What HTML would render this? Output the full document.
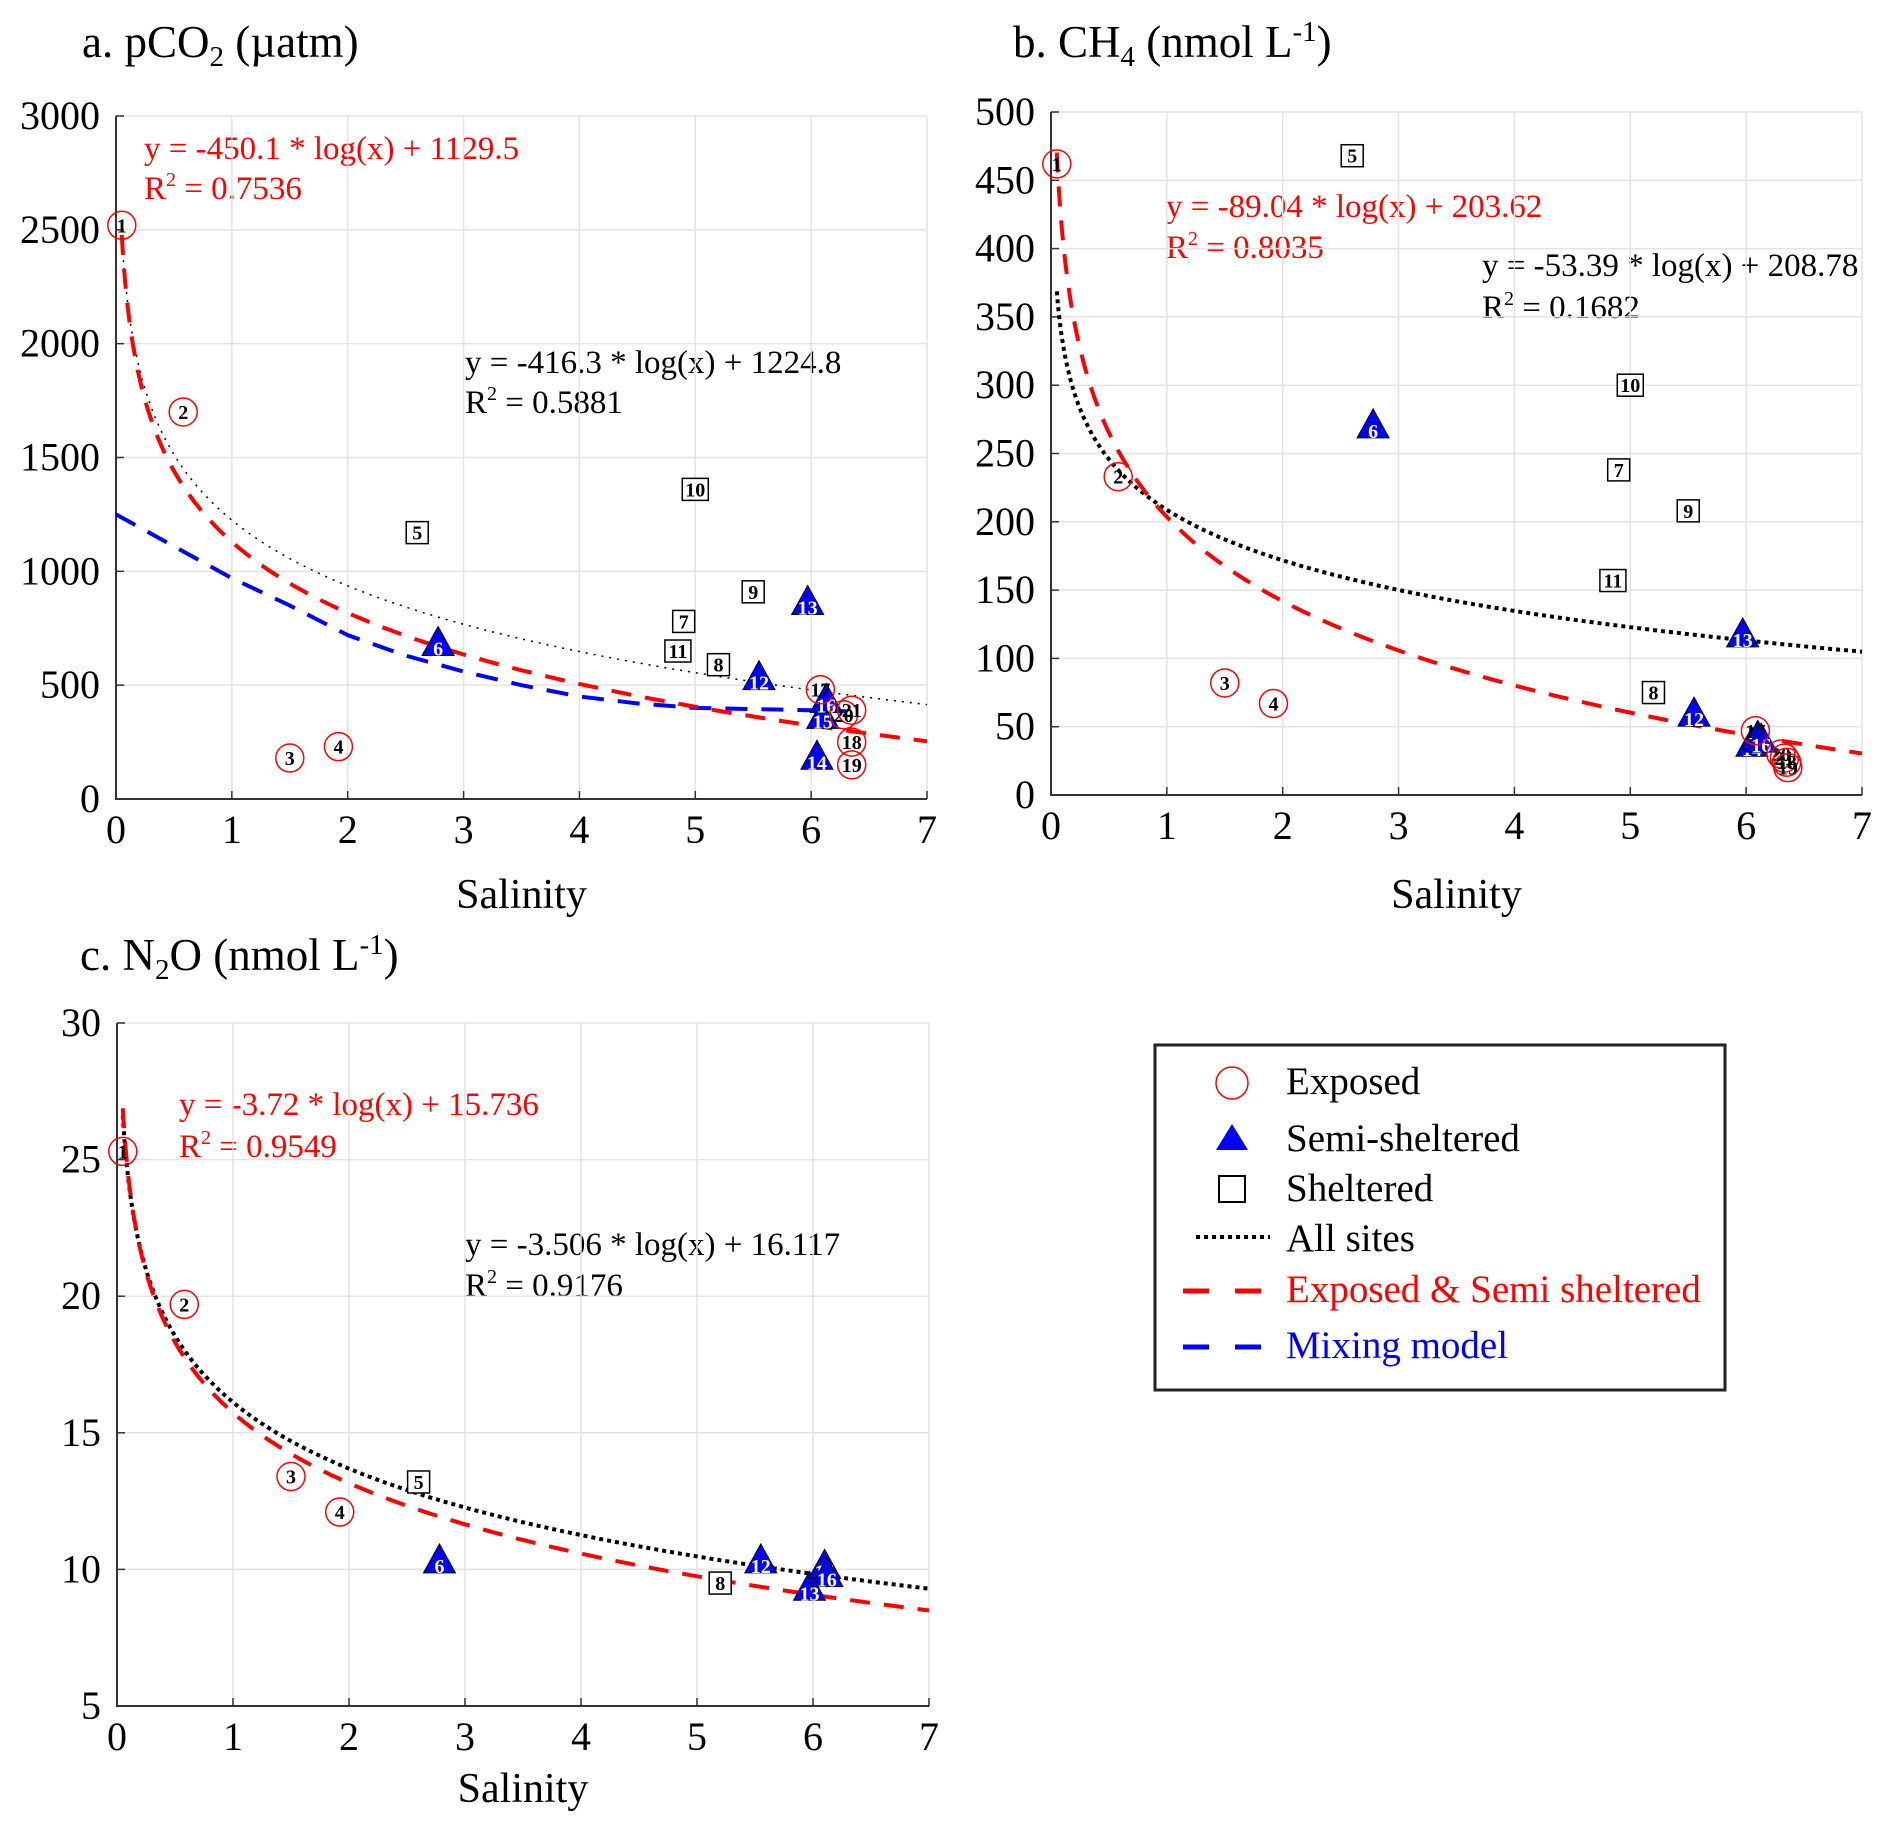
<!DOCTYPE html>
<html><head><meta charset="utf-8">
<style>
html,body{margin:0;padding:0;background:#fff;}
svg{display:block;font-family:"Liberation Serif",serif;}
</style></head>
<body>
<svg id="fig" width="1892" height="1829" viewBox="0 0 1892 1829" xmlns="http://www.w3.org/2000/svg">
<text x="82" y="57" font-size="45">a. pCO<tspan font-size="29" dy="9">2</tspan><tspan dy="-9"> (µatm)</tspan></text>
<text x="1013" y="57" font-size="45">b. CH<tspan font-size="29" dy="9">4</tspan><tspan dy="-9"> (nmol L</tspan><tspan font-size="29" dy="-16">-1</tspan><tspan dy="16">)</tspan></text>
<text x="80" y="970" font-size="45">c. N<tspan font-size="29" dy="9">2</tspan><tspan dy="-9">O (nmol L</tspan><tspan font-size="29" dy="-16">-1</tspan><tspan dy="16">)</tspan></text>

<text x="144" y="159" font-size="33" fill="#ff0000">y = -450.1 * log(x) + 1129.5</text>
<text x="144" y="199" font-size="33" fill="#ff0000">R<tspan font-size="20" dy="-13">2</tspan><tspan dy="13"> = 0.7536</tspan></text>
<text x="465" y="373" font-size="33">y = -416.3 * log(x) + 1224.8</text>
<text x="465" y="413" font-size="33">R<tspan font-size="20" dy="-13">2</tspan><tspan dy="13"> = 0.5881</tspan></text>

<text x="1166" y="217" font-size="33" fill="#ff0000">y = -89.04 * log(x) + 203.62</text>
<text x="1166" y="258" font-size="33" fill="#ff0000">R<tspan font-size="20" dy="-13">2</tspan><tspan dy="13"> = 0.8035</tspan></text>
<text x="1482" y="276" font-size="33">y = -53.39 * log(x) + 208.78</text>
<text x="1482" y="318" font-size="33">R<tspan font-size="20" dy="-13">2</tspan><tspan dy="13"> = 0.1682</tspan></text>

<text x="179" y="1115" font-size="33" fill="#ff0000">y = -3.72 * log(x) + 15.736</text>
<text x="179" y="1157" font-size="33" fill="#ff0000">R<tspan font-size="20" dy="-13">2</tspan><tspan dy="13"> = 0.9549</tspan></text>
<text x="465" y="1255" font-size="33">y = -3.506 * log(x) + 16.117</text>
<text x="465" y="1296" font-size="33">R<tspan font-size="20" dy="-13">2</tspan><tspan dy="13"> = 0.9176</tspan></text>

<g>
<rect x="1155" y="1045" width="570" height="345" fill="none" stroke="#222" stroke-width="3"/>
<g><circle cx="1232" cy="1083" r="16" fill="none" stroke="#ff0000" stroke-width="1.5"/><text x="1286" y="1094" font-size="39">Exposed</text></g>
<g><polygon points="1232,1124 1248,1150 1216,1150" fill="#0000ff"/><text x="1286" y="1151" font-size="39">Semi-sheltered</text></g>
<g><rect x="1219" y="1176" width="26" height="26" fill="none" stroke="#000" stroke-width="2"/><text x="1286" y="1201" font-size="39">Sheltered</text></g>
<g><line x1="1196" y1="1237" x2="1270" y2="1237" stroke="#000" stroke-width="4" stroke-dasharray="4,4"/><text x="1286" y="1251" font-size="39">All sites</text></g>
<g><line x1="1183" y1="1291" x2="1265" y2="1291" stroke="#ff0000" stroke-width="5" stroke-dasharray="26,26"/><text x="1286" y="1302" font-size="39" fill="#ff0000">Exposed &amp; Semi sheltered</text></g>
<g><line x1="1183" y1="1347" x2="1265" y2="1347" stroke="#0000ff" stroke-width="5" stroke-dasharray="26,26"/><text x="1286" y="1358" font-size="39" fill="#0000ff">Mixing model</text></g>
</g>
</svg>
<script>
// ---------- data ----------
const xTicks = [0,1,2,3,4,5,6,7];
const aTicks = [0,500,1000,1500,2000,2500,3000];
const bTicks = [0,50,100,150,200,250,300,350,400,450,500];
const cTicks = [5,10,15,20,25,30];

const aExposedX = [0.05,0.58,1.5,1.92,6.08,6.35,6.35,6.28,6.35];
const aExposedY = [2520,1700,180,230,480,250,150,370,390];
const aExposedLbl = ['1','2','3','4','17','18','19','20','21'];
const aSemiX = [2.78,5.55,5.97,6.05,6.1,6.13];
const aSemiY = [670,520,850,170,350,420];
const aSemiLbl = ['6','12','13','14','15','16'];
const aShelX = [2.6,4.9,5.2,5.5,5.0,4.85];
const aShelY = [1170,780,590,910,1360,650];
const aShelLbl = ['5','7','8','9','10','11'];
const aRedCoef = [-450.1,1129.5];
const aBlackCoef = [-416.3,1224.8];
const mixX = [0,0.5,1,1.5,2,2.5,3,3.5,4,4.5,5,5.5,6,6.3];
const mixY = [1250,1110,970,850,720,630,560,500,450,420,400,395,390,385];

const bExposedX = [0.05,0.58,1.5,1.92,6.08,6.3,6.35,6.33,6.36];
const bExposedY = [462,233,82,67,47,30,24,27,20];
const bExposedLbl = ['1','2','3','4','17','20','18','21','19'];
const bSemiX = [2.78,5.55,5.97,6.05,6.1,6.13];
const bSemiY = [268,57,115,35,40,38];
const bSemiLbl = ['6','12','13','14','15','16'];
const bShelX = [2.6,4.9,5.2,5.5,5.0,4.85];
const bShelY = [468,238,75,208,300,157];
const bShelLbl = ['5','7','8','9','10','11'];
const bRedCoef = [-89.04,203.62];
const bBlackCoef = [-53.39,208.78];

const cExposedX = [0.05,0.58,1.5,1.92];
const cExposedY = [25.3,19.7,13.4,12.1];
const cExposedLbl = ['1','2','3','4'];
const cSemiX = [2.78,5.55,5.97,6.1,6.12];
const cSemiY = [10.2,10.2,9.2,10.0,9.7];
const cSemiLbl = ['6','12','13','15','16'];
const cShelX = [2.6,5.2];
const cShelY = [13.2,9.5];
const cShelLbl = ['5','8'];
const cRedCoef = [-3.72,15.736];
const cBlackCoef = [-3.506,16.117];

// ---------- drawing ----------
const NS='http://www.w3.org/2000/svg';
const svg=document.getElementById('fig');
function mk(tag,attrs,parent){const e=document.createElementNS(NS,tag);for(const k in attrs)e.setAttribute(k,attrs[k]);(parent||svg).appendChild(e);return e;}

function panel(id,box,yMin,yMax,yTicks,xLabelY){
  const g=mk('g',{});
  
  
  const sx=v=>box.x0+(v-0)/7*(box.x1-box.x0);
  const sy=v=>box.y0-(v-yMin)/(yMax-yMin)*(box.y0-box.y1);
  xTicks.forEach(t=>{
    const l=mk('line',{x1:sx(t),x2:sx(t),y1:box.y0,y2:box.y1,stroke:'#e3e3e3','stroke-width':1.5},g);
    
    
    mk('line',{x1:sx(t),x2:sx(t),y1:box.y0,y2:box.y0-8,stroke:'#333','stroke-width':1.5},g);
    const tx=mk('text',{x:sx(t),y:box.y0+44,'font-size':40,'text-anchor':'middle'},g);
    tx.textContent=t;
    
    
  });
  yTicks.forEach(t=>{
    const l=mk('line',{x1:box.x0,x2:box.x1,y1:sy(t),y2:sy(t),stroke:'#e3e3e3','stroke-width':1.5},g);
    
    
    mk('line',{x1:box.x0,x2:box.x0+8,y1:sy(t),y2:sy(t),stroke:'#333','stroke-width':1.5},g);
    const tx=mk('text',{x:box.x0-16,y:sy(t)+13,'font-size':40,'text-anchor':'end'},g);
    tx.textContent=t;
    
    
  });
  const ax=mk('path',{d:`M${box.x0},${box.y1}V${box.y0}H${box.x1}`,fill:'none',stroke:'#333','stroke-width':2},g);
  
  
  const xl=mk('text',{x:(box.x0+box.x1)/2,y:xLabelY,'font-size':42,'text-anchor':'middle'},g);
  xl.textContent='Salinity';
  
  
  return {g,sx,sy};
}
function logCurve(p,coef,x0,x1,style,name){
  let d='';
  for(let i=0;i<=300;i++){const x=x0*Math.pow(x1/x0,i/300);const y=coef[0]*Math.log(x)+coef[1];d+=(i?'L':'M')+p.sx(x).toFixed(1)+','+p.sy(y).toFixed(1);}
  const e=mk('path',Object.assign({d,fill:'none'},style),p.g);
  
  
}
function polyCurve(p,xs,ys,style,name){
  const d=xs.map((x,i)=>(i?'L':'M')+p.sx(x).toFixed(1)+','+p.sy(ys[i]).toFixed(1)).join('');
  const e=mk('path',Object.assign({d,fill:'none'},style),p.g);
  
  
}
function lbl(p,x,y,t,color){
  const e=mk('text',{x,y:y+7,'font-size':20,'font-weight':'bold','text-anchor':'middle',fill:color},p.g);
  e.textContent=t;
}
function exposed(p,xs,ys,ls){
  xs.forEach((v,i)=>{
    const cx=p.sx(v),cy=p.sy(ys[i]);
    const c=mk('circle',{cx,cy,r:14,fill:'none',stroke:'#ff0000','stroke-width':1.5},p.g);
    
    
    lbl(p,cx,cy,ls[i],'#000');
  });
}
function semi(p,xs,ys,ls){
  xs.forEach((v,i)=>{
    const cx=p.sx(v),cy=p.sy(ys[i]);
    const t=mk('polygon',{points:`${cx},${cy-20} ${cx+16},${cy+9} ${cx-16},${cy+9}`,fill:'#0000ff',stroke:'#000','stroke-width':1},p.g);
    
    
    lbl(p,cx,cy+2,ls[i],'#ffffff');
  });
}
function shel(p,xs,ys,ls){
  xs.forEach((v,i)=>{
    const cx=p.sx(v),cy=p.sy(ys[i]);
    const w=ls[i].length>1?26:22;
    const r=mk('rect',{x:cx-w/2,y:cy-11,width:w,height:22,fill:'#fff',stroke:'#000','stroke-width':1.5},p.g);
    
    
    lbl(p,cx,cy,ls[i],'#000');
  });
}
const red={stroke:'#ff0000','stroke-width':4,'stroke-dasharray':'20,14'};
const blue={stroke:'#0000ff','stroke-width':4,'stroke-dasharray':'22,14'};

// panel a
const pa=panel('a',{x0:116,x1:927,y0:799,y1:116},0,3000,aTicks,908);
logCurve(pa,aBlackCoef,0.05,7,{stroke:'#000','stroke-width':1.5,'stroke-dasharray':'2,6'},'all-sites-fit-a');
polyCurve(pa,mixX,mixY,blue,'mixing-model-a');
logCurve(pa,aRedCoef,0.05,7,red,'exposed-semi-fit-a');
shel(pa,aShelX,aShelY,aShelLbl);
semi(pa,aSemiX,aSemiY,aSemiLbl);
exposed(pa,aExposedX,aExposedY,aExposedLbl);

// panel b
const pb=panel('b',{x0:1051,x1:1862,y0:795,y1:112},0,500,bTicks,908);
logCurve(pb,bBlackCoef,0.05,7,{stroke:'#000','stroke-width':4,'stroke-dasharray':'4,4'},'all-sites-fit-b');
logCurve(pb,bRedCoef,0.05,7,red,'exposed-semi-fit-b');
shel(pb,bShelX,bShelY,bShelLbl);
semi(pb,bSemiX,bSemiY,bSemiLbl);
exposed(pb,bExposedX,bExposedY,bExposedLbl);

// panel c
const pc=panel('c',{x0:117,x1:929,y0:1706,y1:1023},5,30,cTicks,1802);
logCurve(pc,cBlackCoef,0.05,7,{stroke:'#000','stroke-width':4,'stroke-dasharray':'4,4'},'all-sites-fit-c');
logCurve(pc,cRedCoef,0.05,7,red,'exposed-semi-fit-c');
shel(pc,cShelX,cShelY,cShelLbl);
semi(pc,cSemiX,cSemiY,cSemiLbl);
exposed(pc,cExposedX,cExposedY,cExposedLbl);
</script>
</body></html>
